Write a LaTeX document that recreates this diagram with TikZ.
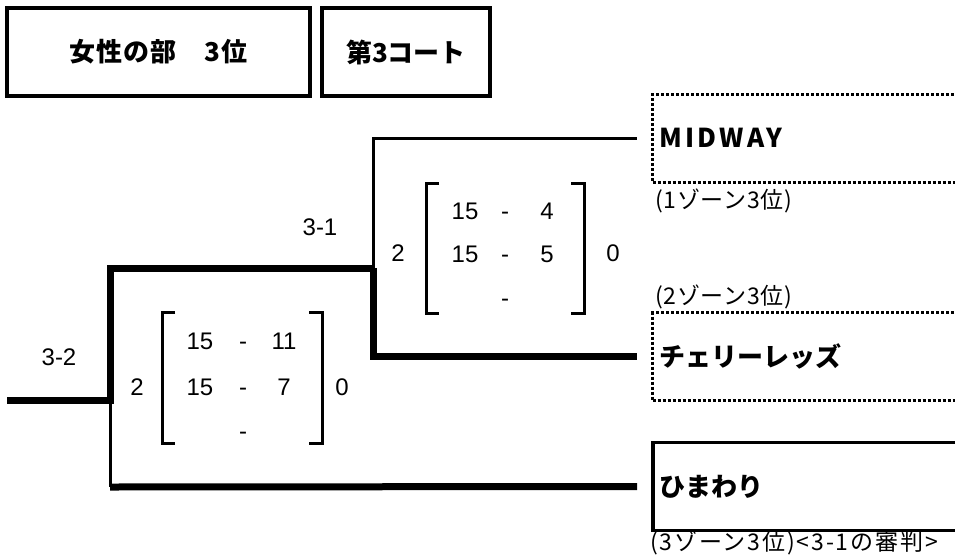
\documentclass[tikz,border=0pt]{standalone}
\usepackage{fontspec}
\setmainfont{Liberation Sans}
\newfontfamily\jp{Noto Sans CJK JP}
\usetikzlibrary{positioning}

\tikzset{
  win/.style={line width=7pt},
  lose/.style={line width=3pt},
  bracket/.style={line width=3pt},
  score/.style={inner sep=0pt, text height=17pt, text depth=0pt, font=\fontsize{24}{28}\selectfont},
  title/.style={draw, line width=3.5pt, minimum height=88pt, font=\jp\bfseries\fontsize{26}{30}\selectfont},
  team/.style={anchor=west, line width=3pt, minimum height=88pt, text width=300pt, inner xsep=7pt, font=\jp\bfseries\fontsize{26}{30}\selectfont},
  zone/.style={anchor=west, inner sep=0pt, font=\jp\fontsize{23}{26}\selectfont},
}

\begin{document}
\begin{tikzpicture}[x=1pt, y=-1pt]
\useasboundingbox (0,0) rectangle (955,557);

% Kopf
\node[title, minimum width=303pt] (kopf) at (158.5,52) {\addfontfeature{LetterSpace=4}女性の部　3位};
\node[title, minimum width=168pt] (court) at (406,52) {第3コート};

% Mannschaften
\node[team, draw, dash pattern=on 3pt off 2pt] (midway) at (651,138) {\addfontfeature{LetterSpace=12}MIDWAY};
\node[team, draw, dash pattern=on 3pt off 2pt] (cherry) at (651,356.5) {チェリーレッズ};
\node[team, draw, line width=3.5pt] (himawari) at (651,486.5) {ひまわり};

\node[zone] (z1) at (655,201) {\addfontfeature{LetterSpace=3}(1ゾーン3位)};
\node[zone] (z2) at (655,297) {\addfontfeature{LetterSpace=3}(2ゾーン3位)};
\node[zone] (z3) at (650,543) {\addfontfeature{LetterSpace=8}(3ゾーン3位)<3-1の審判>};

% Linien
\coordinate (root) at (7,400);
\coordinate (j32) at (110,400);
\coordinate (j31) at (373,268);
\coordinate (c3) at (110,487);
\draw[win] (root) -- (j32) |- (j31);
\draw[lose] (j31) |- ([xshift=-14pt]midway.west);
\draw[win] (j31) |- ([xshift=-14pt]cherry.west);
\draw[lose] (j32) -- (c3);
\draw[win] (c3) -- ([xshift=-14pt]himawari.west);

% Spiel 3-1
\node[score] (n31) at (320,227) {3-1};
\draw[bracket] (439,183) -- (426,183) -- (426,313) -- (439,313);
\draw[bracket] (571,183) -- (584,183) -- (584,313) -- (571,313);
\node[score] (a1) at (398,253) {2};
\node[score] (b1) at (613,253) {0};
\node[score] (s11) at (465,211) {15};
\node[score] (d11) at (505,211) {-};
\node[score] (t11) at (547,211) {4};
\node[score] (s12) at (465,254) {15};
\node[score] (d12) at (505,254) {-};
\node[score] (t12) at (547,254) {5};
\node[score] (d13) at (505,298) {-};

% Spiel 3-2
\node[score] (n32) at (59,357) {3-2};
\draw[bracket] (175,312) -- (162,312) -- (162,443) -- (175,443);
\draw[bracket] (309,312) -- (322,312) -- (322,443) -- (309,443);
\node[score] (a2) at (137,387) {2};
\node[score] (b2) at (342,387) {0};
\node[score] (s21) at (200,341) {15};
\node[score] (d21) at (243,341) {-};
\node[score] (t21) at (284,341) {11};
\node[score] (s22) at (200,387) {15};
\node[score] (d22) at (243,387) {-};
\node[score] (t22) at (284,387) {7};
\node[score] (d23) at (243,431) {-};

\end{tikzpicture}
\end{document}
